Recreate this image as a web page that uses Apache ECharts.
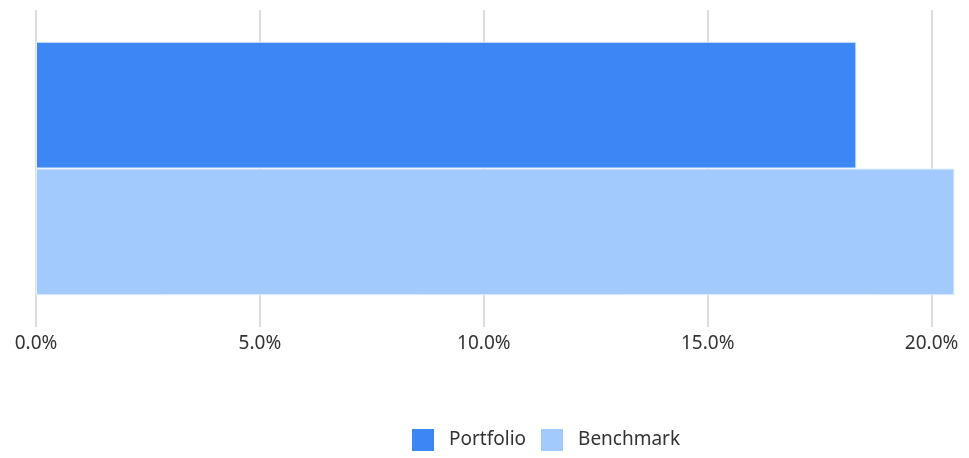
<!DOCTYPE html>
<html>
<head>
<meta charset="utf-8">
<script src="https://cdn.jsdelivr.net/npm/echarts@6/dist/echarts.min.js"></script>
<style>
  html, body { margin: 0; padding: 0; background: #ffffff; }
  #chart { width: 969px; height: 458px; }
</style>
</head>
<body>
<div id="chart"></div>
<script>
// data
const categories = ["Return"];
const seriesNames = ["Portfolio", "Benchmark"];
const portfolioValues = [18.32];
const benchmarkValues = [20.51];
const seriesColors = ["#3d87f5", "#a3cafd"];

const myChart = echarts.init(document.getElementById("chart"));

const option = {
  animation: false,
  textStyle: { fontFamily: "Noto Sans" },
  grid: {
    left: 36,
    right: 15,
    top: 10,
    bottom: 131
  },
  legend: {
    bottom: 2,
    left: 407,
    itemWidth: 22,
    itemHeight: 22,
    itemGap: 15,
    icon: "rect",
    itemStyle: { borderWidth: 0 },
    textStyle: { fontSize: 19, color: "#333", fontFamily: "Noto Sans", padding: [0, 0, 0, 10] },
    data: seriesNames
  },
  xAxis: {
    type: "value",
    min: 0,
    max: 20.5,
    interval: 5,
    axisLine: { show: false },
    axisTick: { show: false },
    splitLine: { showMaxLine: false, lineStyle: { color: "#dddddd", width: 2 } },
    axisLabel: {
      showMaxLabel: false,
      margin: 7,
      fontSize: 19,
      color: "#333",
      formatter: function (v) { return v.toFixed(1) + "%"; }
    }
  },
  yAxis: {
    type: "category",
    inverse: true,
    data: categories,
    axisLine: { show: false },
    axisTick: { show: false },
    axisLabel: { show: false }
  },
  series: [
    {
      name: seriesNames[0],
      type: "bar",
      data: portfolioValues,
      barGap: "0%",
      barCategoryGap: "20%",
      itemStyle: { color: seriesColors[0], borderColor: "#e8f0fc", borderWidth: 1 }
    },
    {
      name: seriesNames[1],
      type: "bar",
      data: benchmarkValues,
      itemStyle: { color: seriesColors[1], borderColor: "#e8f0fc", borderWidth: 1 }
    }
  ]
};

myChart.setOption(option);
window.addEventListener("resize", function () {
  myChart.resize();
});
</script>
</body>
</html>
